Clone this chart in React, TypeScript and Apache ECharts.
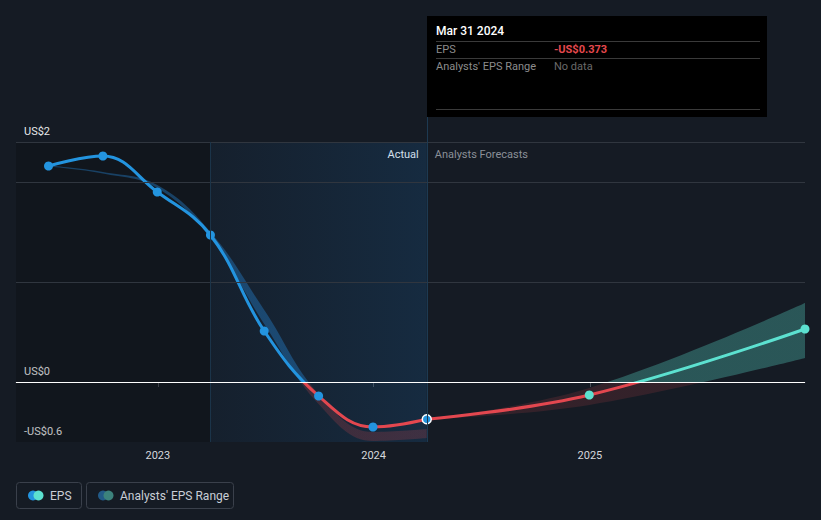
import { useEffect, useRef } from 'react';
import * as echarts from 'echarts';

// ---- data ----
const pastDates = ['2022-06-30', '2022-09-30', '2022-12-31', '2023-03-31', '2023-06-30', '2023-09-30', '2023-12-31', '2024-03-31'];
const pastEps = [2.16, 2.26, 1.9, 1.47, 0.51, -0.14, -0.45, -0.373];
const pastRangeLow = [2.155, 2.085, 1.94, 1.44, 0.58, -0.22, -0.59, -0.56];
const pastRangeHigh = [2.165, 2.1, 1.97, 1.5, 0.72, -0.12, -0.5, -0.47];

const forecastDates = ['2024-03-31', '2024-12-31', '2025-12-31'];
const forecastEps = [-0.373, -0.13, 0.53];
const forecastLow = [-0.373, -0.23, 0.24];
const forecastHigh = [-0.373, -0.06, 0.79];

const xTickDates = ['2023-01-01', '2024-01-01', '2025-01-01'];
const xTickLabels = ['2023', '2024', '2025'];
const yTickValues = [-0.6, 0, 2.4];
const yTickLabels = ['-US$0.6', 'US$0', 'US$2'];
const yGridValues = [1, 2, 2.4];

const axisMin = '2022-05-06';
const axisMax = '2025-12-31';
const actualStart = '2023-03-31';
const actualEnd = '2024-03-31';

const tooltipDate = 'Mar 31 2024';
const tooltipEps = '-US$0.373';
const tooltipRange = 'No data';

const FONT = 'Roboto, "Noto Sans", sans-serif';
const BLUE = '#2394df';
const RED = '#e3474f';
const TEAL = '#5ce1d0';

const t = (s: string) => {
  const [y, m, d] = s.split('-').map(Number);
  return Date.UTC(y, m - 1, d);
};

const signPieces = (neg: string, pos: string) => [
  { gte: -100, lt: 0, color: neg },
  { gte: 0, lte: 100, color: pos },
];

export default function App() {
  const ref = useRef<HTMLDivElement>(null);
  useEffect(() => {
    document.body.style.margin = '0';
    const chart = echarts.init(ref.current!, null, { renderer: 'svg' });
    const pairs = (d: string[], v: number[]) => d.map((x, i) => [t(x), v[i]]);
    // value first, date second, so that stacking runs on the value (y) dimension
    const pairsYX = (d: string[], v: number[]) => d.map((x, i) => [v[i], t(x)]);
    const diff = (lo: number[], hi: number[]) => hi.map((h, i) => h - lo[i]);
    const gridLine = (v: number) => ({ yAxis: v, lineStyle: { color: '#30363f', width: 1, type: 'solid' } });
    const xTicks = xTickDates.map(t);

    const bandBase = {
      type: 'line',
      stackStrategy: 'all',
      encode: { x: 1, y: 0 },
      smooth: 0.4,
      showSymbol: false,
      silent: true,
      z: 1,
    };

    const option: any = {
      animation: false,
      backgroundColor: '#151b24',
      grid: { left: 16, right: 16, top: 142, bottom: 78 },
      xAxis: {
        type: 'value',
        min: t(axisMin),
        max: t(axisMax),
        axisLine: { show: true, lineStyle: { color: '#4a4f57', width: 1 } },
        axisTick: { show: true, length: 5, lineStyle: { color: '#4a4f57' }, customValues: xTicks },
        axisLabel: {
          customValues: xTicks,
          formatter: (v: number) => {
            const idx = xTicks.indexOf(v);
            return idx >= 0 ? xTickLabels[idx] : '';
          },
          color: '#d5d8dc',
          fontSize: 11,
          fontFamily: FONT,
          margin: 8,
        },
        splitLine: { show: false },
      },
      yAxis: {
        type: 'value',
        min: -0.6,
        max: 2.4,
        axisLine: { show: false },
        axisTick: { show: false },
        splitLine: { show: false },
        axisLabel: {
          customValues: yTickValues,
          formatter: (v: number) => {
            const idx = yTickValues.findIndex((tv) => Math.abs(tv - v) < 1e-9);
            return idx >= 0 ? yTickLabels[idx] : '';
          },
          inside: true,
          margin: 8,
          verticalAlign: 'bottom',
          padding: [0, 0, 5, 0],
          color: '#e6e8ea',
          fontSize: 11,
          fontFamily: FONT,
        },
      },
      visualMap: [
        { type: 'piecewise', show: false, seriesIndex: 4, dimension: 1, pieces: signPieces(RED, BLUE) },
        { type: 'piecewise', show: false, seriesIndex: 5, dimension: 1, pieces: signPieces(RED, TEAL) },
      ],
      series: [
        {
          ...bandBase,
          name: 'pastLow',
          stack: 'past',
          data: pairsYX(pastDates, pastRangeLow),
          lineStyle: { opacity: 0, width: 0 },
          markArea: {
            silent: true,
            data: [
              [{ xAxis: t(axisMin), itemStyle: { color: 'rgba(0,0,0,0.17)' } }, { xAxis: t(actualStart) }],
              [
                {
                  xAxis: t(actualStart),
                  itemStyle: {
                    color: new echarts.graphic.LinearGradient(0, 0, 1, 0, [
                      { offset: 0, color: 'rgba(25,90,150,0.08)' },
                      { offset: 1, color: 'rgba(25,100,165,0.22)' },
                    ]),
                  },
                },
                { xAxis: t(actualEnd) },
              ],
            ],
          },
          markLine: {
            silent: true,
            symbol: ['none', 'none'],
            label: { show: false },
            data: [
              ...yGridValues.map(gridLine),
              { xAxis: t(actualStart), lineStyle: { color: '#1b3449', width: 1, type: 'solid' } },
              { xAxis: t(actualEnd), lineStyle: { color: '#1d3a52', width: 1, type: 'solid' } },
            ],
          },
        },
        {
          ...bandBase,
          name: 'pastRange',
          stack: 'past',
          data: pairsYX(pastDates, diff(pastRangeLow, pastRangeHigh)),
          lineStyle: { width: 0, opacity: 0 },
          areaStyle: { color: 'rgba(35,125,200,0.45)', opacity: 1 },
        },
        {
          ...bandBase,
          name: 'fcLow',
          stack: 'fc',
          data: pairsYX(forecastDates, forecastLow),
          lineStyle: { opacity: 0, width: 0 },
        },
        {
          ...bandBase,
          name: 'fcRange',
          stack: 'fc',
          data: pairsYX(forecastDates, diff(forecastLow, forecastHigh)),
          lineStyle: { width: 0, opacity: 0 },
          areaStyle: { color: 'rgba(92,225,208,0.3)', opacity: 1 },
          markLine: {
            silent: true,
            symbol: ['none', 'none'],
            label: { show: false },
            data: [{ yAxis: 0, lineStyle: { color: '#ffffff', width: 1, type: 'solid' } }],
          },
        },
        {
          name: 'EPS',
          type: 'line',
          data: pairs(pastDates, pastEps),
          smooth: 0.4,
          showSymbol: false,
          lineStyle: { width: 3 },
          z: 3,
        },
        {
          name: 'EPS forecast',
          type: 'line',
          data: pairs(forecastDates, forecastEps),
          smooth: 0.4,
          showSymbol: false,
          lineStyle: { width: 3 },
          z: 3,
        },
        {
          name: 'pastPoints',
          type: 'scatter',
          symbolSize: 9,
          z: 4,
          data: pastDates.map((d, i) => ({
            value: [t(d), pastEps[i]],
            itemStyle:
              i === pastDates.length - 1
                ? { color: BLUE, opacity: 1, borderColor: '#ffffff', borderWidth: 1.5 }
                : { color: BLUE, opacity: 1 },
          })),
        },
        {
          name: 'fcPoints',
          type: 'scatter',
          symbolSize: 9,
          z: 4,
          itemStyle: { color: TEAL, opacity: 1 },
          data: pairs(forecastDates.slice(1), forecastEps.slice(1)),
        },
      ],
    };
    chart.setOption(option);

    // colour the range bands by sign, switching at the pixel row of zero
    const yTop = chart.convertToPixel({ yAxisIndex: 0 }, 2.4) as number;
    const yBot = chart.convertToPixel({ yAxisIndex: 0 }, -0.6) as number;
    const yZero = chart.convertToPixel({ yAxisIndex: 0 }, 0) as number;
    const off = (yZero - yTop) / (yBot - yTop);
    const signGrad = (pos: string, neg: string) =>
      new echarts.graphic.LinearGradient(
        0, yTop, 0, yBot,
        [
          { offset: 0, color: pos },
          { offset: off, color: pos },
          { offset: off, color: neg },
          { offset: 1, color: neg },
        ],
        true,
      );

    const xEnd = chart.convertToPixel({ xAxisIndex: 0 }, t(actualEnd)) as number;
    const tx = 427;
    const ty = 16;
    const sep = (y: number) => ({
      type: 'line',
      shape: { x1: tx + 9, y1: y, x2: tx + 333, y2: y },
      style: { stroke: '#3a3a3a', lineWidth: 1 },
    });
    const txt = (text: string, x: number, y: number, fill: string, size: number, weight: any = 'normal', align = 'left') => ({
      type: 'text',
      style: { text, x, y, fill, fontSize: size, fontFamily: FONT, fontWeight: weight, align, verticalAlign: 'middle' },
    });

    chart.setOption({
      series: [
        {},
        { areaStyle: { color: signGrad('rgba(35,125,200,0.42)', 'rgba(224,71,76,0.2)') } },
        {},
        { areaStyle: { color: signGrad('rgba(92,225,208,0.3)', 'rgba(224,71,76,0.15)') } },
      ],
      graphic: [
        {
          type: 'line',
          shape: { x1: Math.round(xEnd) + 0.5, y1: ty + 101, x2: Math.round(xEnd) + 0.5, y2: yTop },
          style: { stroke: '#1d3a52', lineWidth: 1 },
          z: 5,
        },
        txt('Actual', xEnd - 8, yTop + 12, '#ffffff', 11, 'normal', 'right'),
        txt('Analysts Forecasts', xEnd + 8, yTop + 12, '#8b9098', 11),
        {
          type: 'group',
          z: 10,
          children: [
            { type: 'rect', shape: { x: tx, y: ty, width: 340, height: 101 }, style: { fill: '#000000' } },
            txt(tooltipDate, tx + 9, ty + 15, '#ffffff', 12, 500),
            sep(ty + 25.5),
            txt('EPS', tx + 9, ty + 33.5, '#8c8c8c', 11),
            txt(tooltipEps, tx + 127, ty + 33.5, '#e5484d', 11, 'bold'),
            sep(ty + 42.5),
            txt("Analysts' EPS Range", tx + 9, ty + 50.5, '#8c8c8c', 11),
            txt(tooltipRange, tx + 127, ty + 50.5, '#6a6a6a', 11),
            sep(ty + 93.5),
          ],
        },
        {
          type: 'group',
          z: 10,
          children: [
            { type: 'rect', shape: { x: 16.5, y: 482.5, width: 65, height: 26, r: 3 }, style: { fill: 'none', stroke: '#3a404b', lineWidth: 1 } },
            { type: 'circle', shape: { cx: 33, cy: 495.5, r: 5 }, style: { fill: BLUE } },
            { type: 'circle', shape: { cx: 38.5, cy: 495.5, r: 5 }, style: { fill: TEAL } },
            txt('EPS', 50, 495.5, '#c9ced6', 12),
            { type: 'rect', shape: { x: 86.5, y: 482.5, width: 147, height: 26, r: 3 }, style: { fill: 'none', stroke: '#3a404b', lineWidth: 1 } },
            { type: 'circle', shape: { cx: 103, cy: 495.5, r: 5 }, style: { fill: '#225a87' } },
            { type: 'circle', shape: { cx: 108.5, cy: 495.5, r: 5 }, style: { fill: '#3c827c' } },
            txt("Analysts' EPS Range", 120, 495.5, '#c9ced6', 12),
          ],
        },
      ],
    });

    return () => chart.dispose();
  }, []);
  return <div ref={ref} style={{ width: 821, height: 520 }} />;
}
